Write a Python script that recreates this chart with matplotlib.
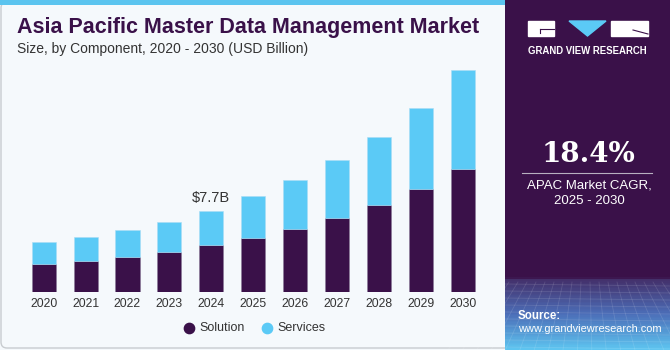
import numpy as np
import matplotlib.pyplot as plt
from matplotlib.patches import Rectangle, Polygon, FancyBboxPatch
from matplotlib.colors import LinearSegmentedColormap

years = ["2020", "2021", "2022", "2023", "2024", "2025", "2026", "2027", "2028", "2029", "2030"]
solution = [2.66, 2.98, 3.33, 3.83, 4.44, 5.16, 6.02, 7.01, 8.27, 9.77, 11.67]
services = [2.07, 2.25, 2.54, 2.86, 3.26, 3.97, 4.66, 5.51, 6.50, 7.73, 9.47]
label_year = "2024"
label_text = "$7.7B"

W, H = 670, 350
dark = "#3a1149"
blue = "#5bcaf6"
bg = "#f5f9fc"

plt.rcParams['font.family'] = ['Liberation Sans', 'DejaVu Sans']
fig = plt.figure(figsize=(6.7, 3.5), dpi=100)
fig.patch.set_facecolor(bg)

# full-figure overlay in pixel coords (y from top)
ov = fig.add_axes([0, 0, 1, 1])
ov.axis("off")
ov.add_patch(FancyBboxPatch((1, 2), 520, 346, boxstyle="round,pad=0,rounding_size=6",
                            facecolor=bg, edgecolor="#c8ccd0", lw=1))
ov.add_patch(Rectangle((0, 0), 505, 5, color="#5bc4ef", lw=0))

ov.text(17, 28, "Asia Pacific Master Data Management Market", fontsize=15.5,
        fontweight="bold", color=dark, va="center", ha="left")
ov.text(17, 49, "Size, by Component, 2020 - 2030 (USD Billion)", fontsize=10,
        color="#333333", va="center", ha="left")

# right panel with gradient at the bottom
grad = np.linspace(0, 1, 350)[:, None]
cmap = LinearSegmentedColormap.from_list(
    "p", [(0, dark), (0.795, dark), (0.80, "#44306a"), (0.9, "#4c6eb8"), (1.0, "#5ec4f0")])
ov.imshow(grad, extent=(505, 670, 350, 0), cmap=cmap, aspect="auto", zorder=1)
# faint grid texture
for yy in np.arange(284, 350, 7):
    ov.plot([505, 670], [yy, yy + 2], color="white", alpha=0.12, lw=0.6, zorder=2)
for xx in np.arange(500, 680, 9):
    ov.plot([xx, 587 + (xx - 587) * 1.6], [282, 350], color="white", alpha=0.12, lw=0.6, zorder=2)
ov.set_xlim(0, W)
ov.set_ylim(H, 0)

# logo
ov.add_patch(Rectangle((528, 21), 26, 15, color="white", zorder=3))
ov.plot([540, 554], [29, 29], color=dark, lw=0.8, zorder=4)
ov.plot([540, 540], [29, 33], color=dark, lw=0.8, zorder=4)
ov.add_patch(Polygon([(569, 21), (606, 21), (587.5, 36)], color=blue, zorder=3))
ov.add_patch(Rectangle((611, 21), 37, 15, color="white", zorder=3))
ov.plot([633, 648], [30, 34], color=dark, lw=0.8, zorder=4)
ov.text(587.5, 51, "GRAND VIEW RESEARCH", fontsize=6.9, fontweight="bold", color="white",
        ha="center", va="center", zorder=4)

ov.text(588, 155, "18.4%", fontsize=20, fontweight="bold", color="white",
        ha="center", va="center", zorder=4, family="DejaVu Serif")
ov.plot([522, 652], [173, 173], color="#b8b0c0", lw=0.8, zorder=4)
ov.text(589, 186, "APAC Market CAGR,", fontsize=9.5, color="white", ha="center", va="center", zorder=4)
ov.text(589, 201, "2025 - 2030", fontsize=9.5, color="white", ha="center", va="center", zorder=4)
ov.text(518, 316, "Source:", fontsize=8.3, fontweight="bold", color="white", ha="left", va="center", zorder=4)
ov.text(518, 329, "www.grandviewresearch.com", fontsize=7.9, color="white", ha="left", va="center", zorder=4)

# legend
ov.scatter([189], [327.7], s=55, color=dark, zorder=4)
ov.text(199, 327.7, "Solution", fontsize=9, color="#333333", va="center", ha="left")
ov.scatter([267], [327.7], s=55, color=blue, zorder=4)
ov.text(277, 327.7, "Services", fontsize=9, color="#333333", va="center", ha="left")

# bar chart
ax = fig.add_axes([0, 58 / H, 505 / W, 232 / H])
ax.patch.set_alpha(0)
x = np.arange(len(years))
ax.bar(x, solution, width=0.573, color=dark, edgecolor="#8a7a98", lw=0.4)
ax.bar(x, services, bottom=solution, width=0.573, color=blue, edgecolor="#a9dcf5", lw=0.4)
px = 41.9
ax.set_xlim(-43.7 / px, (505 - 43.7) / px)
ax.set_ylim(0, 232 * 0.09506)
for s in ax.spines.values():
    s.set_visible(False)
ax.set_yticks([])
ax.set_xticks(x)
ax.set_xticklabels(years, fontsize=8.8, color="#333333")
ax.tick_params(axis="x", length=0, pad=4)
i = years.index(label_year)
ax.text(x[i], solution[i] + services[i] + 0.6, label_text, fontsize=10.5, color="#333333",
        ha="center", va="bottom")

fig.savefig("out.png", dpi=100, facecolor=bg)
